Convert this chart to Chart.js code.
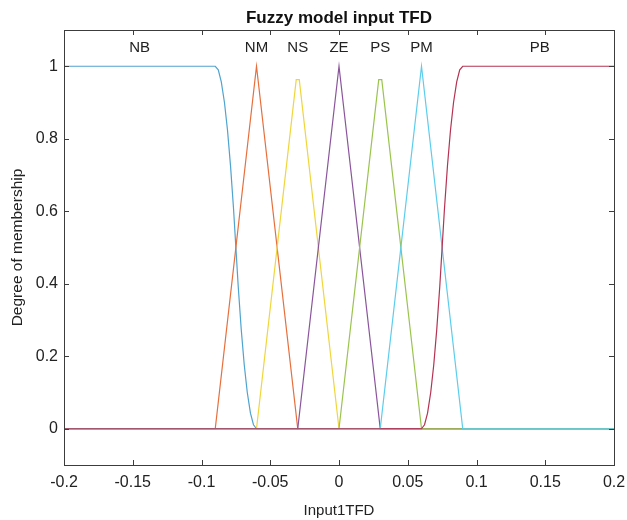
<!DOCTYPE html>
<html>
<head>
<meta charset="utf-8">
<script src="https://cdn.jsdelivr.net/npm/chart.js@4/dist/chart.umd.min.js"></script>
<style>
  html, body { margin: 0; padding: 0; background: #fff; }
  #wrap { width: 627px; height: 520px; }
</style>
</head>
<body>
<div id="wrap"><canvas id="mfChart" width="627" height="520"></canvas></div>
<script>
// membership functions of input TFD
const mfNames = ['NB', 'NM', 'NS', 'ZE', 'PS', 'PM', 'PB'];
const mfColors = ['#4fa3cf', '#e66f3d', '#efd63c', '#8a559b', '#9ac44e', '#5ccdec', '#b53352'];

const nbX = [-0.2, -0.09, -0.0878, -0.0856, -0.0833, -0.0811, -0.0789, -0.0767, -0.075,
  -0.0733, -0.0711, -0.0689, -0.0667, -0.0644, -0.0622, -0.06, 0.2];
const nbY = [1, 1, 0.99, 0.957, 0.9, 0.824, 0.726, 0.607, 0.5, 0.393, 0.274, 0.176, 0.1, 0.043, 0.011, 0, 0];
const nmX = [-0.2, -0.09, -0.06, -0.03, 0.2];
const nmY = [0, 0, 1, 0, 0];
const nsX = [-0.2, -0.06, -0.0311, -0.0289, 0, 0.2];
const nsY = [0, 0, 0.963, 0.963, 0, 0];
const zeX = [-0.2, -0.03, 0, 0.03, 0.2];
const zeY = [0, 0, 1, 0, 0];
const psX = [-0.2, 0, 0.0289, 0.0311, 0.06, 0.2];
const psY = [0, 0, 0.963, 0.963, 0, 0];
const pmX = [-0.2, 0.03, 0.06, 0.09, 0.2];
const pmY = [0, 0, 1, 0, 0];
const pbX = [-0.2, 0.06, 0.0622, 0.0644, 0.0667, 0.0689, 0.0711, 0.0733, 0.075,
  0.0767, 0.0789, 0.0811, 0.0833, 0.0856, 0.0878, 0.09, 0.2];
const pbY = [0, 0, 0.011, 0.043, 0.1, 0.176, 0.274, 0.393, 0.5, 0.607, 0.726, 0.824, 0.9, 0.957, 0.99, 1, 1];

// where the MF names sit
const labelX = [-0.145, -0.06, -0.03, 0, 0.03, 0.06, 0.146];
const labelY = 1.05;

const xTicks = [-0.2, -0.15, -0.1, -0.05, 0, 0.05, 0.1, 0.15, 0.2];
const xTickLabels = ['-0.2', '-0.15', '-0.1', '-0.05', '0', '0.05', '0.1', '0.15', '0.2'];
const yTicks = [0, 0.2, 0.4, 0.6, 0.8, 1];
const yTickLabels = ['0', '0.2', '0.4', '0.6', '0.8', '1'];

const chartTitle = 'Fuzzy model input TFD';

const allX = [nbX, nmX, nsX, zeX, psX, pmX, pbX];
const allY = [nbY, nmY, nsY, zeY, psY, pmY, pbY];

const FONT = 'Liberation Sans, Arial, Helvetica, sans-serif';

const frameAndLabels = {
  id: 'frameAndLabels',
  afterDraw(chart) {
    const ctx = chart.ctx;
    const a = chart.chartArea;
    const xs = chart.scales.x, ys = chart.scales.y;
    ctx.save();
    ctx.strokeStyle = '#3c3c3c';
    ctx.lineWidth = 1;
    ctx.strokeRect(Math.round(a.left) + 0.5, Math.round(a.top) + 0.5,
      Math.round(a.right - a.left), Math.round(a.bottom - a.top));
    // inward ticks like matlab
    const tl = 5;
    ctx.beginPath();
    xTicks.forEach(v => {
      const px = Math.round(xs.getPixelForValue(v)) + 0.5;
      ctx.moveTo(px, a.bottom); ctx.lineTo(px, a.bottom - tl);
      ctx.moveTo(px, a.top); ctx.lineTo(px, a.top + tl);
    });
    yTicks.forEach(v => {
      const py = Math.round(ys.getPixelForValue(v)) + 0.5;
      ctx.moveTo(a.left, py); ctx.lineTo(a.left + tl, py);
      ctx.moveTo(a.right, py); ctx.lineTo(a.right - tl, py);
    });
    ctx.stroke();
    ctx.textAlign = 'center';
    ctx.textBaseline = 'middle';
    // title centred over the axes box
    ctx.fillStyle = '#111';
    ctx.font = 'bold 17px ' + FONT;
    ctx.fillText(chartTitle, (a.left + a.right) / 2, a.top - 12);
    // mf names
    ctx.fillStyle = '#222';
    ctx.font = '15px ' + FONT;
    mfNames.forEach((n, i) => {
      ctx.fillText(n, xs.getPixelForValue(labelX[i]), ys.getPixelForValue(labelY));
    });
    ctx.restore();
  }
};

const datasets = mfNames.map((name, i) => ({
  label: name,
  data: allX[i].map((x, j) => ({ x: x, y: allY[i][j] })),
  borderColor: mfColors[i],
  borderWidth: 1.2,
  pointRadius: 0,
  showLine: true,
  fill: false,
  tension: 0,
  order: mfNames.length - i
}));

new Chart(document.getElementById('mfChart'), {
  type: 'scatter',
  data: { datasets },
  options: {
    responsive: false,
    animation: false,
    layout: { padding: { left: 0, right: 13, top: 30, bottom: 0 } },
    plugins: {
      legend: { display: false },
      tooltip: { enabled: false },
      title: { display: false }
    },
    scales: {
      x: {
        type: 'linear',
        min: -0.2, max: 0.2,
        afterBuildTicks: axis => { axis.ticks = xTicks.map(v => ({ value: v })); },
        afterFit: axis => { axis.height = 55; axis.paddingLeft = 0; axis.paddingRight = 0; },
        grid: { display: false, drawTicks: false },
        border: { display: false },
        ticks: {
          color: '#222',
          padding: 8,
          maxRotation: 0,
          font: { family: FONT, size: 16 },
          callback: (v, i) => xTickLabels[i]
        },
        title: {
          display: true,
          text: 'Input1TFD',
          color: '#222',
          font: { family: FONT, size: 15 },
          padding: { top: 0, bottom: 0 }
        }
      },
      y: {
        min: -0.1, max: 1.1,
        afterBuildTicks: axis => { axis.ticks = yTicks.map(v => ({ value: v })); },
        afterFit: axis => { axis.width = 64; axis.paddingTop = 0; axis.paddingBottom = 0; },
        grid: { display: false, drawTicks: false },
        border: { display: false },
        ticks: {
          color: '#222',
          padding: 6,
          font: { family: FONT, size: 16 },
          callback: (v, i) => yTickLabels[i]
        },
        title: {
          display: true,
          text: 'Degree of membership',
          color: '#222',
          font: { family: FONT, size: 15.5 },
          padding: { top: 8, bottom: 0 }
        }
      }
    }
  },
  plugins: [frameAndLabels]
});
</script>
</body>
</html>
